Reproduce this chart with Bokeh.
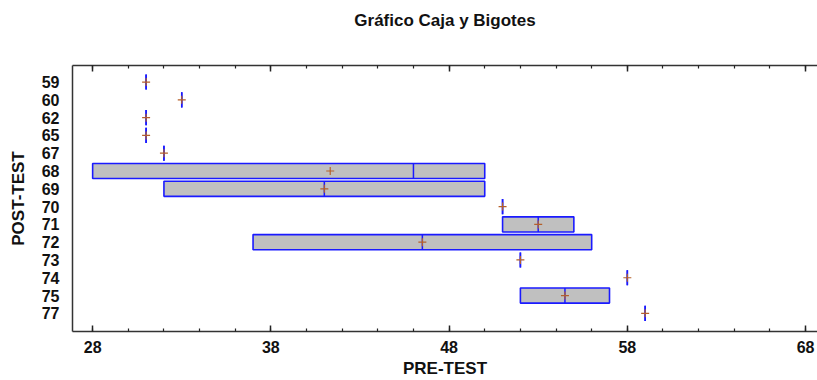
from bokeh.plotting import figure
from bokeh.models import Range1d, FixedTicker, LinearAxis, ColumnDataSource
from bokeh.embed import file_html
from bokeh.resources import INLINE

# POST-TEST groups (rows) and PRE-TEST box statistics
post_test = ["59", "60", "62", "65", "67", "68", "69", "70", "71", "72", "73", "74", "75", "77"]
pre_min = [31, 33, 31, 31, 32, 28, 32, 51, 51, 37, 52, 58, 52, 59]
pre_q1 = [31, 33, 31, 31, 32, 28, 32, 51, 51, 37, 52, 58, 52, 59]
pre_median = [31, 33, 31, 31, 32, 46, 41, 51, 53, 46.5, 52, 58, 54.5, 59]
pre_q3 = [31, 33, 31, 31, 32, 50, 50, 51, 55, 56, 52, 58, 57, 59]
pre_max = [31, 33, 31, 31, 32, 50, 50, 51, 55, 56, 52, 58, 57, 59]
pre_mean = [31, 33, 31, 31, 32, 41.33, 41, 51, 53, 46.5, 52, 58, 54.5, 59]

x_major = [28, 38, 48, 58, 68]
x_minor = list(range(28, 69, 2))
chart_title = "Gráfico Caja y Bigotes"

FONT = "Liberation Sans"
BLUE = "#1a1aff"
BROWN = "#b5602a"
BOX_H = 0.85

rows = list(range(len(post_test)))
src = ColumnDataSource(dict(
    y=rows,
    ylo=[r - BOX_H / 2 for r in rows],
    yhi=[r + BOX_H / 2 for r in rows],
    mn=pre_min, q1=pre_q1, med=pre_median, q3=pre_q3, mx=pre_max, mean=pre_mean,
))

p = figure(width=817, height=380, output_backend="svg", toolbar_location=None,
           x_range=Range1d(26.87, 68.67), y_range=Range1d(14.02, -0.93),
           min_border_left=72, min_border_right=0, min_border_top=65,
           min_border_bottom=43)
p.grid.visible = False
p.outline_line_color = None
p.background_fill_color = "white"
p.border_fill_color = "white"

# whiskers
p.segment(x0="mn", y0="y", x1="q1", y1="y", source=src, line_color=BLUE, line_width=1.5)
p.segment(x0="q3", y0="y", x1="mx", y1="y", source=src, line_color=BLUE, line_width=1.5)
# boxes
p.hbar(y="y", left="q1", right="q3", height=BOX_H, source=src,
       fill_color="#c0c0c0", line_color=BLUE, line_width=1.6)
# medians
p.segment(x0="med", y0="ylo", x1="med", y1="yhi", source=src, line_color=BLUE, line_width=1.5)
# means
p.scatter(x="mean", y="y", source=src, marker="cross", size=8,
          line_color=BROWN, line_width=1.2)

# x axis (bottom)
xa = p.xaxis[0]
xa.ticker = FixedTicker(ticks=x_major, minor_ticks=x_minor)
xa.axis_label = "PRE-TEST"
xa.major_tick_in = 6
xa.major_tick_out = 0
xa.minor_tick_in = 3
xa.minor_tick_out = 0
xa.major_label_standoff = 9
xa.axis_label_standoff = 3

# top axis: ticks only, its axis label serves as the chart title
ta = LinearAxis(ticker=FixedTicker(ticks=x_major, minor_ticks=x_minor),
                major_label_overrides={t: "" for t in x_major},
                major_label_standoff=0,
                major_tick_in=6, major_tick_out=0,
                minor_tick_in=3, minor_tick_out=0,
                axis_label=chart_title, axis_label_standoff=36)
p.add_layout(ta, "above")

# y axis
ya = p.yaxis[0]
ya.ticker = FixedTicker(ticks=rows, minor_ticks=[])
ya.major_label_overrides = {r: s for r, s in zip(rows, post_test)}
ya.axis_label = "POST-TEST"
ya.major_tick_in = 0
ya.major_tick_out = 0
ya.minor_tick_in = 0
ya.minor_tick_out = 0
ya.major_label_standoff = 13
ya.axis_label_standoff = 11

for ax in [xa, ya, ta]:
    ax.axis_line_color = "#333333"
    ax.axis_line_width = 1.5
    ax.major_tick_line_color = "#222222"
    ax.major_tick_line_width = 1.5
    ax.minor_tick_line_color = "#222222"
    ax.minor_tick_line_width = 1.2
    ax.axis_label_text_font = FONT
    ax.axis_label_text_font_style = "bold"
    ax.axis_label_text_font_size = "17px"
    ax.axis_label_text_color = "#111111"
for ax in [xa, ya]:
    ax.major_label_text_font = FONT
    ax.major_label_text_font_style = "bold"
    ax.major_label_text_font_size = "16px"
    ax.major_label_text_color = "#111111"

open("out.html", "w").write(file_html(p, INLINE))
